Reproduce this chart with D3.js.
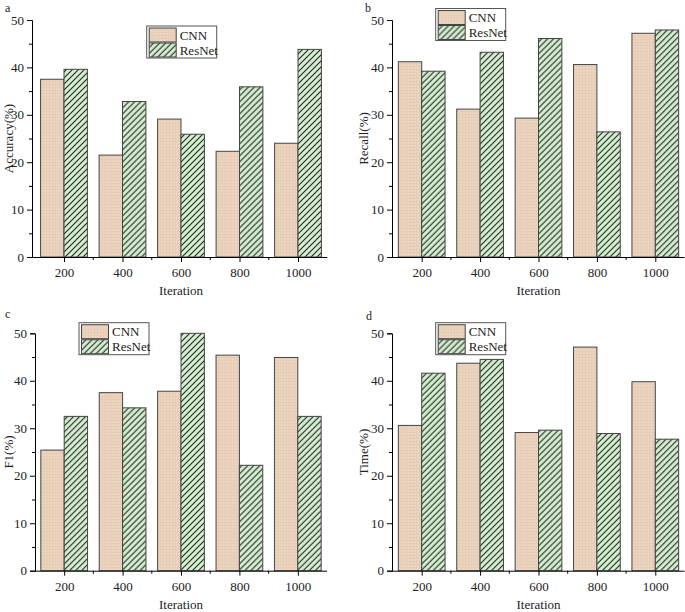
<html>
<script src='https://d3js.org/d3.v7.min.js'></script>
<style>
  body { margin: 0; background: #fff; }
  svg text { font-family: 'Liberation Serif', 'Times New Roman', serif; fill: #222; }
</style>
<body>
<svg id='chart' width=685 height=612></svg>
<script>
const iterations = ['200', '400', '600', '800', '1000'];
const seriesNames = ['CNN', 'ResNet'];
const yTicks = [0, 10, 20, 30, 40, 50];

const accuracyCNN    = [37.5, 21.5, 29.1, 22.3, 24.0];
const accuracyResNet = [39.6, 32.8, 25.9, 35.9, 43.8];
const recallCNN      = [41.2, 31.2, 29.3, 40.6, 47.2];
const recallResNet   = [39.2, 43.2, 46.1, 26.4, 47.9];
const f1CNN          = [25.4, 37.5, 37.8, 45.4, 44.9];
const f1ResNet       = [32.5, 34.3, 50.0, 22.2, 32.5];
const timeCNN        = [30.6, 43.7, 29.1, 47.1, 39.8];
const timeResNet     = [41.6, 44.5, 29.6, 28.9, 27.7];

const panels = [
  {tag: 'a', ylabel: 'Accuracy(%)', cnn: accuracyCNN, res: accuracyResNet,
   axisX: 32, x0: 34.75, x1: 327.25, top: 20, bottom: 257, legend: [146.7, 26],
   tagPos: [5, 12], labX: 13},
  {tag: 'b', ylabel: 'Recall(%)', cnn: recallCNN, res: recallResNet,
   axisX: 392, x0: 392.5, x1: 684.5, top: 20, bottom: 257, legend: [435.7, 8.5],
   tagPos: [365, 12], labX: 368},
  {tag: 'c', ylabel: 'F1(%)', cnn: f1CNN, res: f1ResNet,
   axisX: 35, x0: 35, x1: 327, top: 333.3, bottom: 570.7, legend: [79, 322.7],
   tagPos: [5, 318], labX: 13},
  {tag: 'd', ylabel: 'Time(%)', cnn: timeCNN, res: timeResNet,
   axisX: 392, x0: 392.5, x1: 684.5, top: 333.3, bottom: 570.7, legend: [435.7, 322.7],
   tagPos: [366, 320], labX: 368}
];

const svg = d3.select('#chart');
const defs = svg.append('defs');

// beige with faint grid for CNN
const pc = defs.append('pattern').attr('id', 'cnnFill')
  .attr('patternUnits', 'userSpaceOnUse').attr('width', 3).attr('height', 3);
pc.append('rect').attr('width', 3).attr('height', 3).attr('fill', '#eed5c0');
pc.append('path').attr('d', 'M0,0.5H3M0.5,0V3').attr('stroke', '#dfc4ae').attr('stroke-width', 0.5);

// green with diagonal hatch for ResNet
const pr = defs.append('pattern').attr('id', 'resFill')
  .attr('patternUnits', 'userSpaceOnUse').attr('width', 6).attr('height', 6);
pr.append('rect').attr('width', 6).attr('height', 6).attr('fill', '#d5edd1');
pr.append('path').attr('d', 'M-1.5,1.5L1.5,-1.5M0,6L6,0M4.5,7.5L7.5,4.5')
  .attr('stroke', '#1e2a1e').attr('stroke-width', 1.1);

const fills = {CNN: 'url(#cnnFill)', ResNet: 'url(#resFill)'};
const serif = "'Liberation Serif', 'Times New Roman', serif";

panels.forEach(p => {
  const g = svg.append('g');
  const x = d3.scalePoint().domain(iterations).range([p.x0, p.x1]).padding(0.5);
  const step = x.step();
  const sub = d3.scaleBand().domain(seriesNames).range([-0.4 * step, 0.4 * step]);
  const y = d3.scaleLinear().domain([0, 50]).range([p.bottom, p.top]);

  const rows = iterations.map((it, i) => ({it, CNN: p.cnn[i], ResNet: p.res[i]}));

  // bars
  g.selectAll('g.grp').data(rows).enter().append('g')
    .attr('transform', d => `translate(${x(d.it)},0)`)
    .selectAll('rect').data(d => seriesNames.map(s => ({s, v: d[s]}))).enter()
    .append('rect')
    .attr('x', d => sub(d.s))
    .attr('width', sub.bandwidth())
    .attr('y', d => y(d.v))
    .attr('height', d => y(0) - y(d.v))
    .attr('fill', d => fills[d.s])
    .attr('stroke', '#444').attr('stroke-width', 1);

  // y axis
  const ya = g.append('g').attr('transform', `translate(${p.axisX},0)`)
    .call(d3.axisLeft(y).tickValues(yTicks).tickSize(5).tickPadding(3));
  g.append('g').attr('transform', `translate(${p.axisX},0)`)
    .call(d3.axisLeft(y).tickValues(d3.range(5, 50, 10)).tickSize(3).tickFormat(''))
    .select('.domain').remove();
  ya.selectAll('text').style('font-size', '13px').style('font-family', serif);

  // x axis
  const xa = g.append('g').attr('transform', `translate(0,${p.bottom})`)
    .call(d3.axisBottom(x).tickSize(5).tickPadding(6));
  xa.select('.domain').attr('d', `M${p.axisX},0.5H${p.x1}`);
  xa.selectAll('text').style('font-size', '13px').style('font-family', serif);
  const mids = iterations.slice(1).map((it, i) => (x(it) + x(iterations[i])) / 2);
  g.append('g').attr('transform', `translate(0,${p.bottom})`)
    .selectAll('line').data(mids).enter().append('line')
    .attr('x1', d => d).attr('x2', d => d).attr('y1', 0).attr('y2', 3)
    .attr('stroke', '#000');

  // labels
  g.append('text').attr('x', (p.x0 + p.x1) / 2).attr('y', p.bottom + 38)
    .attr('text-anchor', 'middle').style('font-size', '13px').text('Iteration');
  g.append('text')
    .attr('transform', `translate(${p.labX},${(p.top + p.bottom) / 2}) rotate(-90)`)
    .attr('text-anchor', 'middle').style('font-size', '13px').text(p.ylabel);
  g.append('text').attr('x', p.tagPos[0]).attr('y', p.tagPos[1])
    .style('font-size', '12px').text(p.tag);

  // legend
  const lg = g.append('g').attr('transform', `translate(${p.legend[0]},${p.legend[1]})`);
  lg.append('rect').attr('width', 70).attr('height', 32)
    .attr('fill', '#fff').attr('stroke', '#555');
  seriesNames.forEach((s, i) => {
    lg.append('rect').attr('x', 2.5).attr('y', 2 + i * 15).attr('width', 27).attr('height', 14)
      .attr('fill', fills[s]).attr('stroke', '#444');
    lg.append('text').attr('x', 33).attr('y', 13.5 + i * 15)
      .style('font-size', '13px').text(s);
  });
});
</script>
</body>
</html>
